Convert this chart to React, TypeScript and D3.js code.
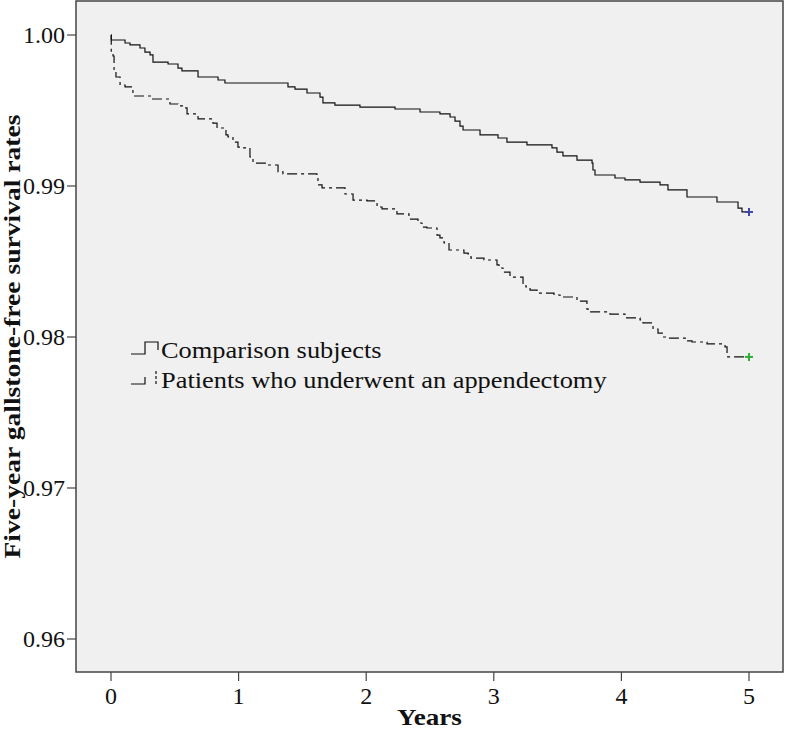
import React from "react";
import * as d3 from "d3";

const yearTicks = [0, 1, 2, 3, 4, 5];
const rateTicks = [0.96, 0.97, 0.98, 0.99, 1.0];

const compTime = [0, 0.002, 0.11, 0.149, 0.227, 0.266, 0.306, 0.329, 0.447, 0.525, 0.556, 0.682, 0.839, 0.893, 1.387, 1.442, 1.536, 1.638, 1.661, 1.755, 1.951, 2.226, 2.422, 2.578, 2.657, 2.696, 2.735, 2.759, 2.892, 3.033, 3.103, 3.26, 3.456, 3.495, 3.542, 3.652, 3.77, 3.777, 3.793, 3.95, 4.028, 4.146, 4.303, 4.365, 4.514, 4.749, 4.914, 4.945];
const compSurv = [1, 0.99967, 0.99947, 0.99934, 0.99914, 0.99887, 0.99868, 0.99821, 0.99808, 0.99781, 0.99762, 0.99722, 0.99702, 0.99682, 0.99656, 0.99642, 0.99616, 0.99589, 0.9955, 0.99536, 0.99523, 0.9951, 0.9949, 0.99477, 0.99457, 0.9943, 0.99397, 0.99371, 0.99338, 0.99318, 0.99291, 0.99272, 0.99252, 0.99225, 0.99199, 0.99172, 0.99152, 0.99106, 0.99073, 0.99053, 0.9904, 0.99026, 0.99007, 0.98974, 0.98927, 0.98894, 0.98854, 0.98828];

const appTime = [0, 0.002, 0.016, 0.024, 0.039, 0.071, 0.11, 0.172, 0.321, 0.462, 0.525, 0.58, 0.596, 0.682, 0.799, 0.831, 0.901, 0.917, 0.956, 0.995, 1.027, 1.089, 1.113, 1.23, 1.309, 1.348, 1.614, 1.622, 1.654, 1.834, 1.897, 2.006, 2.085, 2.124, 2.241, 2.335, 2.406, 2.437, 2.476, 2.555, 2.578, 2.61, 2.649, 2.766, 2.798, 2.821, 2.923, 3.025, 3.041, 3.072, 3.127, 3.229, 3.252, 3.284, 3.339, 3.472, 3.519, 3.652, 3.73, 3.754, 3.911, 4.028, 4.146, 4.169, 4.248, 4.287, 4.326, 4.365, 4.514, 4.553, 4.671, 4.812, 4.828];
const appSurv = [1, 0.99887, 0.99861, 0.99768, 0.99722, 0.99669, 0.99656, 0.99596, 0.99576, 0.99543, 0.9953, 0.99517, 0.99477, 0.99444, 0.99417, 0.99384, 0.99338, 0.99325, 0.99291, 0.99258, 0.99252, 0.99192, 0.99152, 0.99139, 0.99093, 0.9908, 0.99053, 0.99007, 0.98987, 0.98947, 0.98907, 0.98901, 0.98861, 0.98848, 0.98815, 0.98781, 0.98755, 0.98728, 0.98722, 0.98675, 0.98656, 0.98623, 0.98576, 0.98556, 0.9855, 0.98523, 0.9851, 0.98477, 0.98457, 0.9843, 0.98397, 0.98351, 0.98331, 0.98311, 0.98291, 0.98278, 0.98265, 0.98238, 0.98185, 0.98166, 0.98152, 0.98126, 0.98113, 0.98093, 0.98053, 0.98026, 0.98, 0.97993, 0.97974, 0.97967, 0.97954, 0.97934, 0.97868];

const endTime = 5;
const seriesNames = ["Comparison subjects", "Patients who underwent an appendectomy"];

const W = 785;
const H = 732;
const box = { left: 76, right: 783, top: 1, bottom: 672 };
const FONT = "'Liberation Serif', 'Times New Roman', serif";

export default function App() {
  const x = d3.scaleLinear().domain([0, 5]).range([111, 749]);
  const y = d3.scaleLinear().domain([0.96, 1.0]).range([639, 35]);

  const toPts = (t: number[], s: number[]) => {
    const pts: [number, number][] = t.map((tt, i) => [tt, s[i]]);
    pts.push([endTime, s[s.length - 1]]);
    return pts;
  };
  const line = d3
    .line<[number, number]>()
    .x((d) => x(d[0]))
    .y((d) => y(d[1]))
    .curve(d3.curveStepAfter);

  const compPts = toPts(compTime, compSurv);
  const appPts = toPts(appTime, appSurv);
  const compEnd = compPts[compPts.length - 1];
  const appEnd = appPts[appPts.length - 1];

  const plus = (cx: number, cy: number, color: string) => (
    <g stroke={color} strokeWidth={2}>
      <line x1={cx - 4} x2={cx + 4} y1={cy} y2={cy} />
      <line x1={cx} x2={cx} y1={cy - 4} y2={cy + 4} />
    </g>
  );

  return (
    <svg
      width={W}
      height={H}
      style={{ position: "absolute", left: 0, top: 0, background: "#fff" }}
      fontFamily={FONT}
    >
      <rect
        x={box.left}
        y={box.top}
        width={box.right - box.left}
        height={box.bottom - box.top}
        fill="#f0f0f0"
        stroke="#444"
        strokeWidth={1.5}
      />
      {rateTicks.map((v) => (
        <g key={v}>
          <line x1={box.left - 9} x2={box.left} y1={y(v)} y2={y(v)} stroke="#444" strokeWidth={1.2} />
          <text x={box.left - 11} y={y(v)} textAnchor="end" dominantBaseline="central" fontSize={24} fill="#111">
            {v.toFixed(2)}
          </text>
        </g>
      ))}
      {yearTicks.map((t) => (
        <g key={t}>
          <line x1={x(t)} x2={x(t)} y1={box.bottom} y2={box.bottom + 9} stroke="#444" strokeWidth={1.2} />
          <text x={x(t)} y={box.bottom + 24} textAnchor="middle" dominantBaseline="central" fontSize={24} fill="#111">
            {t}
          </text>
        </g>
      ))}
      <text
        transform={`translate(${(box.left + box.right) / 2}, 717) scale(1.18, 1)`}
        textAnchor="middle"
        dominantBaseline="central"
        fontSize={23}
        fontWeight="bold"
        fill="#111"
      >
        Years
      </text>
      <text
        transform={`translate(12, ${(box.top + box.bottom) / 2}) rotate(-90) scale(1.2, 1)`}
        textAnchor="middle"
        dominantBaseline="central"
        fontSize={23}
        fontWeight="bold"
        fill="#111"
      >
        Five-year gallstone-free survival rates
      </text>

      <path d={line(appPts) || ""} fill="none" stroke="#111" strokeWidth={1.2} strokeDasharray="10,4,3,4" />
      <path d={line(compPts) || ""} fill="none" stroke="#111" strokeWidth={1.2} />
      {plus(x(compEnd[0]), y(compEnd[1]), "#3b4aa8")}
      {plus(x(appEnd[0]), y(appEnd[1]), "#2fae3a")}

      <g>
        <path d="M131,354 H145 V342 H158 V350" fill="none" stroke="#111" strokeWidth={1.2} />
        <text
          transform="translate(161, 350) scale(1.1, 1)"
          dominantBaseline="central"
          fontSize={24}
          fill="#111"
        >
          {seriesNames[0]}
        </text>
        <path d="M131,384 H145 V377" fill="none" stroke="#111" strokeWidth={1.2} />
        <path d="M156,371 V385" fill="none" stroke="#111" strokeWidth={1.2} strokeDasharray="3,2" />
        <text
          transform="translate(161, 380) scale(1.1, 1)"
          dominantBaseline="central"
          fontSize={24}
          fill="#111"
        >
          {seriesNames[1]}
        </text>
      </g>
    </svg>
  );
}
